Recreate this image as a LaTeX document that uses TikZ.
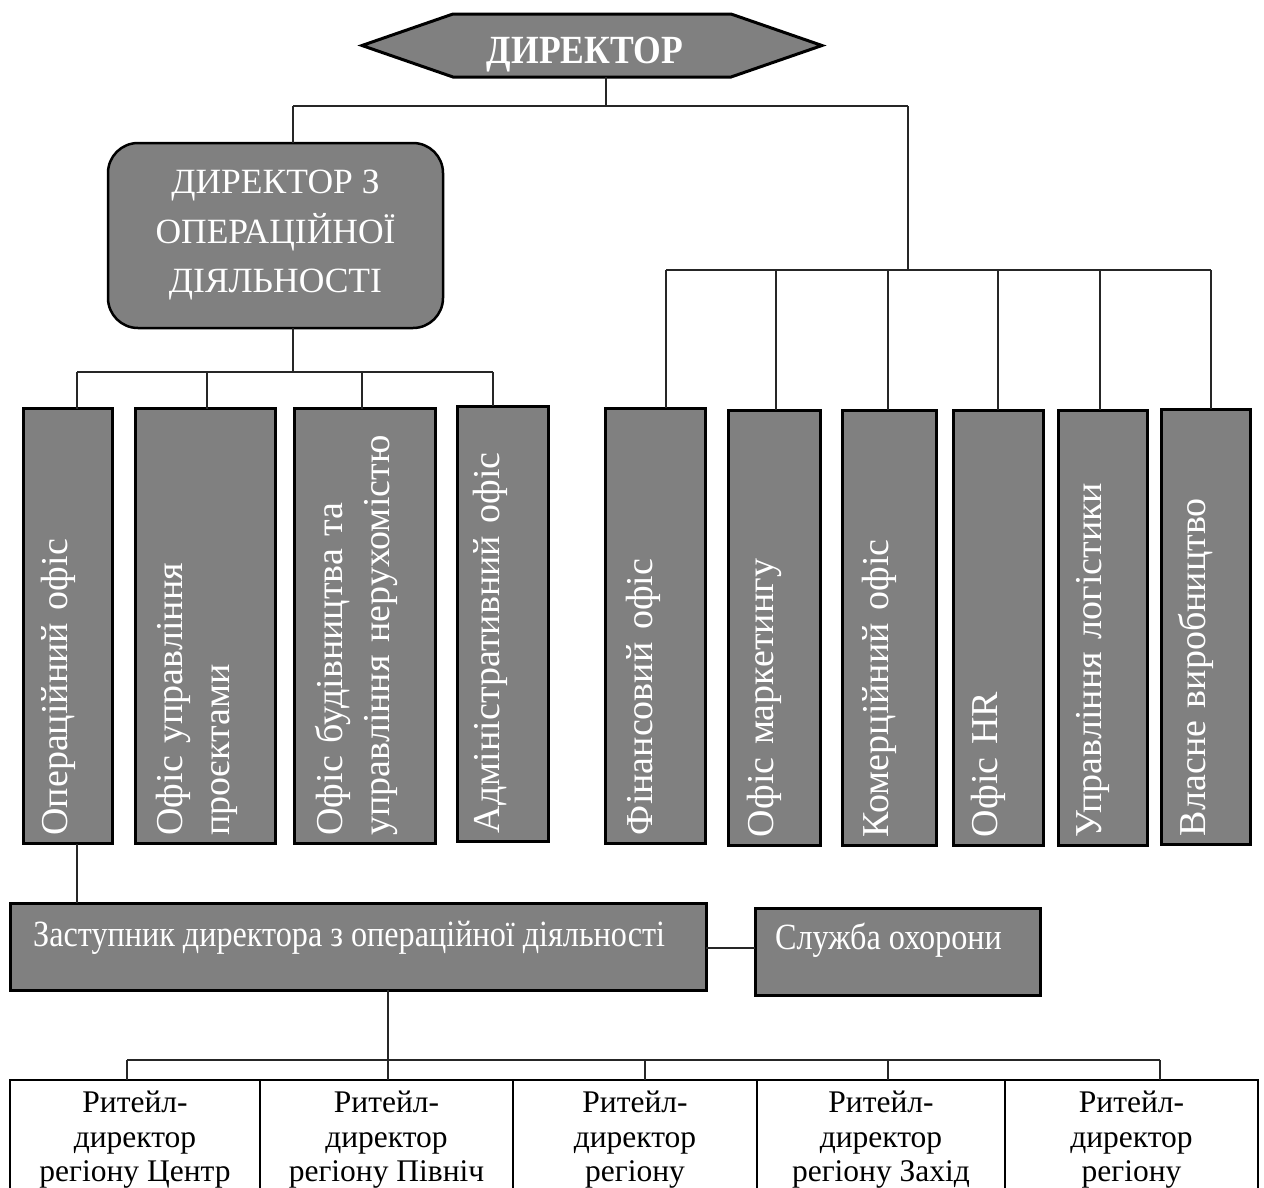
\documentclass[tikz,border=0pt]{standalone}
\usepackage{fontspec}
\setmainfont{Liberation Serif}
\usetikzlibrary{calc}
\definecolor{boxgray}{HTML}{808080}
\newcommand{\narrowtxt}[1]{\scalebox{0.87}[1]{#1}}
\begin{document}
\begin{tikzpicture}[x=1pt,y=-1pt,
  conn/.style={draw=black!85,line width=1.4pt},
  gbox/.style={draw=black,line width=3pt,fill=boxgray,outer sep=0pt,inner sep=0pt},
  vbox/.style={gbox,rotate=90,minimum width=435},
  vtext/.style={rotate=90,text=white,text width=419,align=left,inner sep=0pt,font=\fontsize{38}{47}\selectfont},
  htext/.style={text=white,inner sep=0pt,font=\fontsize{37}{42}\selectfont},
  rbox/.style={draw=black,line width=2pt,minimum height=120,align=center,inner sep=0pt,outer sep=0pt,font=\fontsize{31.5}{34.5}\selectfont}]
\useasboundingbox (0,0) rectangle (1264,1187);
\clip (0,0) rectangle (1264,1187);
\fill[white] (0,0) rectangle (1264,1187);

% junction coordinates
\coordinate (j0) at (606,106);
\coordinate (jl) at (293,106);
\coordinate (jr) at (908,106);
\coordinate (lb) at (293,372);
\coordinate (lbL) at (77,372);
\coordinate (lbR) at (493,372);
\coordinate (d2) at (207,372);
\coordinate (d3) at (362,372);
\coordinate (rb) at (908,270);
\coordinate (rbL) at (666,270);
\coordinate (rbR) at (1211,270);
\coordinate (d6) at (776,270);
\coordinate (d7) at (888,270);
\coordinate (d8) at (998,270);
\coordinate (d9) at (1100,270);
\coordinate (zs) at (730,948);
\coordinate (bb0) at (388,1060);
\coordinate (bbL) at (127,1060);
\coordinate (bbR) at (1160,1060);
\coordinate (e3) at (645,1060);
\coordinate (e4) at (888,1060);

% top director hexagon
\node[minimum width=460,minimum height=63,inner sep=0pt,outer sep=0pt] (dir) at (592,45.5) {};
\draw[gbox] (dir.west) -- ($(dir.north west)+(91,0)$) -- ($(dir.north east)+(-91,0)$) -- (dir.east)
  -- ($(dir.south east)+(-91,0)$) -- ($(dir.south west)+(91,0)$) -- cycle;
\node[text=white,inner sep=0pt,anchor=base,font=\bfseries\fontsize{40}{44}\selectfont] (dirt) at (585,63) {\scalebox{0.89}[1]{ДИРЕКТОР}};

% operations director
\node[gbox,line width=2.5pt,rounded corners=30pt,minimum width=335,minimum height=185,align=center,
  text=white,font=\fontsize{35.5}{49.5}\selectfont] (opd) at (275.5,235.5) {ДИРЕКТОР З\\ОПЕРАЦІЙНОЇ\\ДІЯЛЬНОСТІ};

% vertical boxes
\node[vbox,minimum height=89] (b1) at (67.5,626) {};
\node[vbox,minimum height=140] (b2) at (205,626) {};
\node[vbox,minimum height=141] (b3) at (364.5,626) {};
\node[vbox,minimum height=91] (b4) at (502.5,623.5) {};
\node[vbox,minimum height=100] (b5) at (655,625.5) {};
\node[vbox,minimum height=92] (b6) at (774,627.5) {};
\node[vbox,minimum height=94] (b7) at (889,627.5) {};
\node[vbox,minimum height=90] (b8) at (998,627.5) {};
\node[vbox,minimum height=89] (b9) at (1102.5,627.5) {};
\node[vbox,minimum height=89] (b10) at (1205.5,626.5) {};

\node[vtext] (t1) at ($(b1)+(-9,0)$) {Операційний офіс};
\node[vtext] (t2) at ($(b2)+(-8,0)$) {Офіс управління\\проєктами};
\node[vtext] (t3) at ($(b3)+(-8,0)$) {Офіс будівництва та\\управління нерухомістю};
\node[vtext] (t4) at ($(b4)+(-12,0)$) {Адміністративний офіс};
\node[vtext] (t5) at ($(b5)+(-12,0)$) {Фінансовий офіс};
\node[vtext] (t6) at ($(b6)+(-10,0)$) {Офіс маркетингу};
\node[vtext] (t7) at ($(b7)+(-10,0)$) {Комерційний офіс};
\node[vtext] (t8) at ($(b8)+(-10,0)$) {Офіс HR};
\node[vtext] (t9) at ($(b9)+(-10,0)$) {Управління логістики};
\node[vtext] (t10) at ($(b10)+(-10,0)$) {Власне виробництво};

% deputy and security
\node[gbox,minimum width=696,minimum height=87] (zas) at (358,946.5) {};
\node[htext,anchor=base west] (zast) at ($(zas.west)+(23,-0.5)$) {\narrowtxt{Заступник директора з операційної діяльності}};
\node[gbox,minimum width=285,minimum height=87] (sl) at (897.5,951.5) {};
\node[htext,anchor=base west] (slt) at ($(sl.west)+(20,-2.5)$) {\narrowtxt{Служба охорони}};

% regional directors
\node[rbox,minimum width=250] (r1) at (135,1140) {Ритейл-\\директор\\регіону Центр};
\node[rbox,minimum width=253] (r2) at (386.5,1140) {Ритейл-\\директор\\регіону Північ};
\node[rbox,minimum width=244] (r3) at (635,1140) {Ритейл-\\директор\\регіону};
\node[rbox,minimum width=248] (r4) at (881,1140) {Ритейл-\\директор\\регіону Захід};
\node[rbox,minimum width=253] (r5) at (1131.5,1140) {Ритейл-\\директор\\регіону};

% connectors
\draw[conn] (dir.south -| j0) -- (j0);
\draw[conn] (jl) -- (jr);
\draw[conn] (jl) -- (jl |- opd.north);
\draw[conn] (opd.south -| lb) -- (lb);
\draw[conn] (lbL) -- (lbR);
\draw[conn] (lbL) -- (lbL |- b1.east);
\draw[conn] (d2) -- (d2 |- b2.east);
\draw[conn] (d3) -- (d3 |- b3.east);
\draw[conn] (lbR) -- (lbR |- b4.east);
\draw[conn] (jr) -- (rb);
\draw[conn] (rbL) -- (rbR);
\draw[conn] (rbL) -- (rbL |- b5.east);
\draw[conn] (d6) -- (d6 |- b6.east);
\draw[conn] (d7) -- (d7 |- b7.east);
\draw[conn] (d8) -- (d8 |- b8.east);
\draw[conn] (d9) -- (d9 |- b9.east);
\draw[conn] (rbR) -- (rbR |- b10.east);
\draw[conn] (lbL |- b1.west) -- (lbL |- zas.north);
\draw[conn] (zas.east |- zs) -- (sl.west |- zs);
\draw[conn] (zas.south -| bb0) -- (bb0);
\draw[conn] (bbL) -- (bbR);
\draw[conn] (bbL) -- (bbL |- r1.north);
\draw[conn] (bb0) -- (bb0 |- r2.north);
\draw[conn] (e3) -- (e3 |- r3.north);
\draw[conn] (e4) -- (e4 |- r4.north);
\draw[conn] (bbR) -- (bbR |- r5.north);
\end{tikzpicture}
\end{document}
